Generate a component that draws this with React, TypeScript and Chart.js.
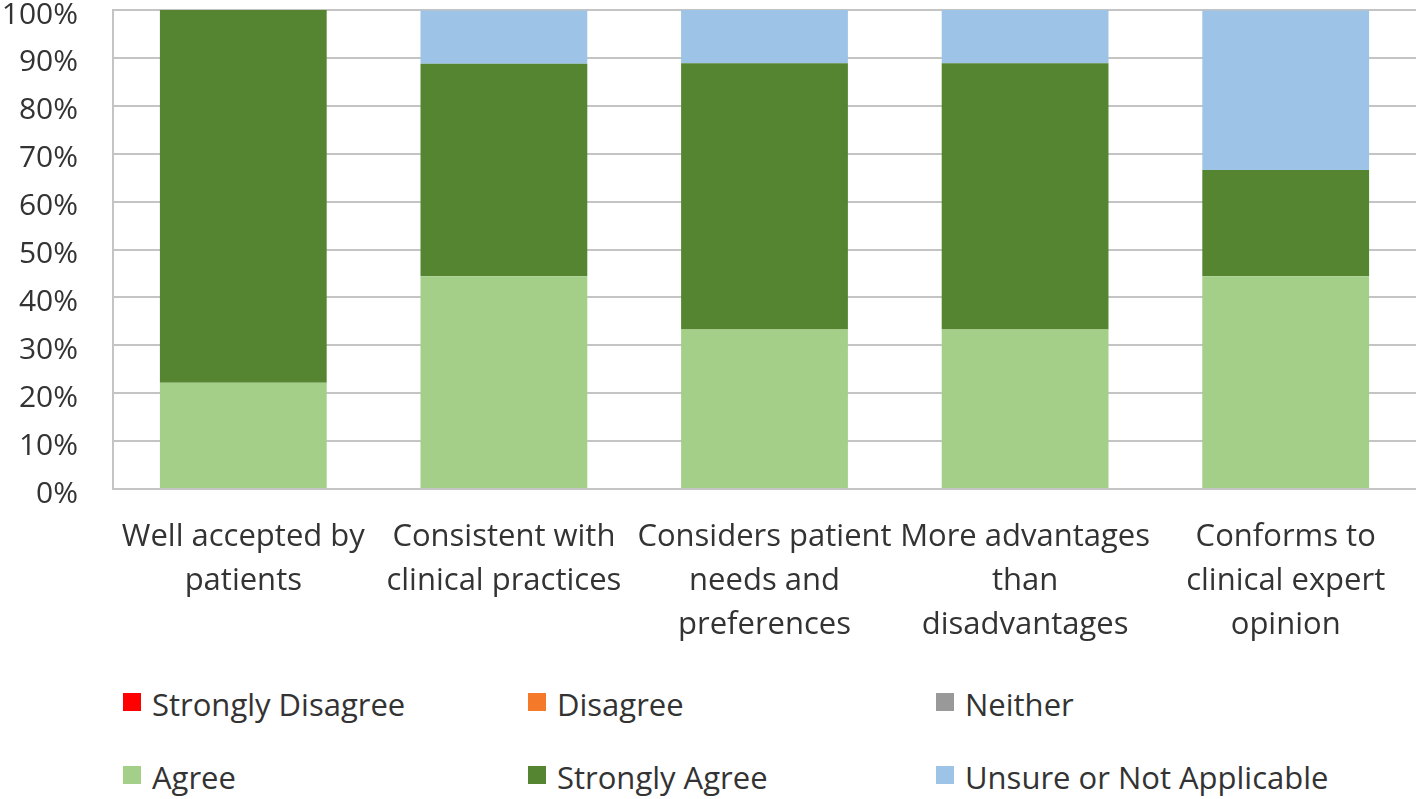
import React, { useEffect, useRef } from "react";
import { Chart, registerables } from "chart.js";
Chart.register(...registerables);

const categories: string[][] = [
  ["Well accepted by", "patients"],
  ["Consistent with", "clinical practices"],
  ["Considers patient", "needs and", "preferences"],
  ["More advantages", "than", "disadvantages"],
  ["Conforms to", "clinical expert", "opinion"],
];
const seriesNames = ["Strongly Disagree", "Disagree", "Neither", "Agree", "Strongly Agree", "Unsure or Not Applicable"];
const seriesColors = ["#ff0000", "#f47a2a", "#999999", "#a3cf88", "#558530", "#9dc3e6"];
const stronglyDisagree = [0, 0, 0, 0, 0];
const disagree = [0, 0, 0, 0, 0];
const neither = [0, 0, 0, 0, 0];
const agree = [22.2, 44.4, 33.3, 33.3, 44.4];
const stronglyAgree = [77.8, 44.4, 55.6, 55.6, 22.2];
const unsure = [0, 11.1, 11.1, 11.1, 33.3];
const yMin = 0;
const yMax = 100;
const yStep = 10;

const seriesValues = [stronglyDisagree, disagree, neither, agree, stronglyAgree, unsure];

const FONT = "'Open Sans', 'Noto Sans', sans-serif";
const TEXT = "#333333";
const W = 1416;
const CH = 660;

export default function App() {
  const ref = useRef<HTMLCanvasElement | null>(null);
  useEffect(() => {
    if (!ref.current) return;
    const chart = new Chart(ref.current, {
      type: "bar",
      data: {
        labels: categories,
        datasets: seriesNames.map((n, i) => ({
          label: n,
          data: seriesValues[i],
          backgroundColor: seriesColors[i],
          borderWidth: 0,
          stack: "s",
          barPercentage: 0.64,
          categoryPercentage: 1,
        })),
      },
      options: {
        animation: false,
        responsive: true,
        maintainAspectRatio: false,
        layout: { padding: { top: 0, right: 0, left: 0, bottom: 0 } },
        plugins: { legend: { display: false }, tooltip: { enabled: false } },
        scales: {
          x: {
            stacked: true,
            grid: { display: false, drawTicks: false },
            border: { display: false },
            ticks: {
              color: TEXT,
              padding: 26,
              maxRotation: 0,
              autoSkip: false,
              font: { family: FONT, size: 31, lineHeight: "44px" as any },
            },
            afterFit: (s: any) => {
              s.height = CH - 489;
            },
          },
          y: {
            stacked: true,
            min: yMin,
            max: yMax,
            grid: { color: "#c4c4c4", lineWidth: 2, drawTicks: false },
            border: { display: true, color: "#c4c4c4", width: 2 },
            ticks: {
              stepSize: yStep,
              color: TEXT,
              padding: 35,
              labelOffset: 5,
              font: { family: FONT, size: 30 },
              callback: (v: any) => v + "%",
            },
            afterFit: (s: any) => {
              s.width = 113;
              s.paddingTop = 10;
              s.paddingBottom = 0;
            },
          },
        },
      },
    });
    return () => chart.destroy();
  }, []);

  const cols = [123, 528, 936];
  const rows = [704, 777];
  return (
    <div style={{ position: "fixed", left: 0, top: 0, width: W, height: 799, background: "#fff", fontFamily: FONT }}>
      <div style={{ position: "absolute", left: 0, top: 0, width: W, height: CH }}>
        <canvas ref={ref} />
      </div>
      {seriesNames.map((n, i) => {
        const c = cols[i % 3];
        const r = rows[Math.floor(i / 3)];
        return (
          <div key={n} style={{ position: "absolute", left: c, top: r - 20, height: 40, display: "flex", alignItems: "center", whiteSpace: "nowrap" }}>
            <span style={{ display: "inline-block", width: 18, height: 18, background: seriesColors[i], marginRight: 11, marginTop: -4 }} />
            <span style={{ fontSize: 31, color: TEXT, lineHeight: "40px" }}>{n}</span>
          </div>
        );
      })}
    </div>
  );
}
